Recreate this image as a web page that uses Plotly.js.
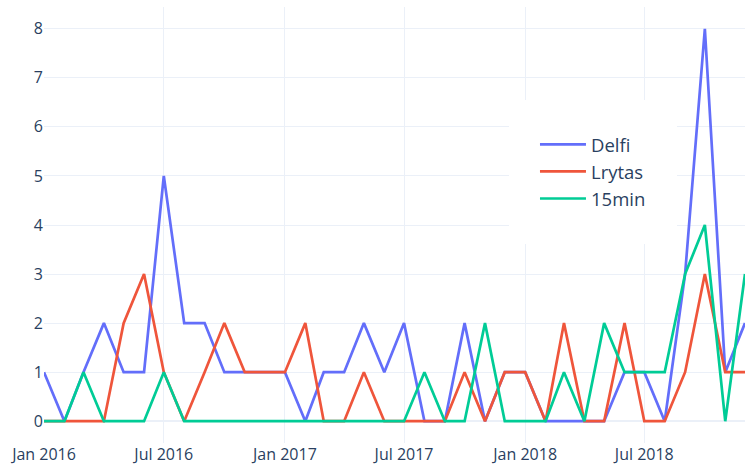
<!DOCTYPE html>
<html>
<head>
<meta charset="utf-8">
<script src="https://cdn.plot.ly/plotly-3.0.1.min.js"></script>
<style>html,body{margin:0;padding:0;background:#fff;}#chart{width:745px;height:468px;}</style>
</head>
<body>
<div id="chart"></div>
<script>
const months = [
  "2016-01-01","2016-02-01","2016-03-01","2016-04-01","2016-05-01","2016-06-01",
  "2016-07-01","2016-08-01","2016-09-01","2016-10-01","2016-11-01","2016-12-01",
  "2017-01-01","2017-02-01","2017-03-01","2017-04-01","2017-05-01","2017-06-01",
  "2017-07-01","2017-08-01","2017-09-01","2017-10-01","2017-11-01","2017-12-01",
  "2018-01-01","2018-02-01","2018-03-01","2018-04-01","2018-05-01","2018-06-01",
  "2018-07-01","2018-08-01","2018-09-01","2018-10-01","2018-11-01","2018-12-01"
];
const delfi  = [1,0,1,2,1,1,5,2,2,1,1,1, 1,0,1,1,2,1,2,0,0,2,0,1, 1,0,0,0,0,1,1,0,3,8,1,2];
const lrytas = [0,0,0,0,2,3,1,0,1,2,1,1, 1,2,0,0,1,0,0,0,0,1,0,1, 1,0,2,0,0,2,0,0,1,3,1,1];
const min15  = [0,0,1,0,0,0,1,0,0,0,0,0, 0,0,0,0,0,0,0,1,0,0,2,0, 0,0,1,0,2,1,1,1,3,4,0,3];
const seriesNames = ["Delfi","Lrytas","15min"];
const colors = ["#636efa","#EF553B","#00cc96"];

const seriesValues = [delfi, lrytas, min15];
const traces = seriesValues.map((vals, i) => ({
  type: "scatter",
  mode: "lines",
  x: months,
  y: vals,
  name: seriesNames[i],
  line: {color: colors[i], width: 2.7}
}));

const layout = {
  width: 745,
  height: 468,
  margin: {l: 44, r: 0, t: 7, b: 25},
  paper_bgcolor: "#fff",
  plot_bgcolor: "#fff",
  font: {family: '"Open Sans", verdana, arial, sans-serif', color: "#2a3f5f", size: 16},
  showlegend: true,
  legend: {
    x: 0.6633, y: 0.787, xanchor: "left", yanchor: "top",
    bgcolor: "#ffffff", bordercolor: "#ffffff", borderwidth: 26,
    font: {size: 18.5, color: "#2a3f5f"},
    itemwidth: 46
  },
  xaxis: {
    type: "date",
    range: ["2016-01-01", "2018-12-01"],
    dtick: "M6",
    tick0: "2016-01-01",
    tickformat: "%b %Y",
    showgrid: true,
    gridcolor: "#EBF0F8",
    zeroline: false,
    ticks: "",
    tickfont: {size: 16, color: "#2a3f5f"}
  },
  yaxis: {
    range: [-0.444, 8.444],
    dtick: 1,
    showgrid: true,
    gridcolor: "#EBF0F8",
    zeroline: true,
    zerolinecolor: "#EBF0F8",
    zerolinewidth: 2,
    ticks: "",
    tickfont: {size: 16, color: "#2a3f5f"}
  }
};

Plotly.newPlot("chart", traces, layout, {displayModeBar: false, staticPlot: true});
</script>
</body>
</html>
